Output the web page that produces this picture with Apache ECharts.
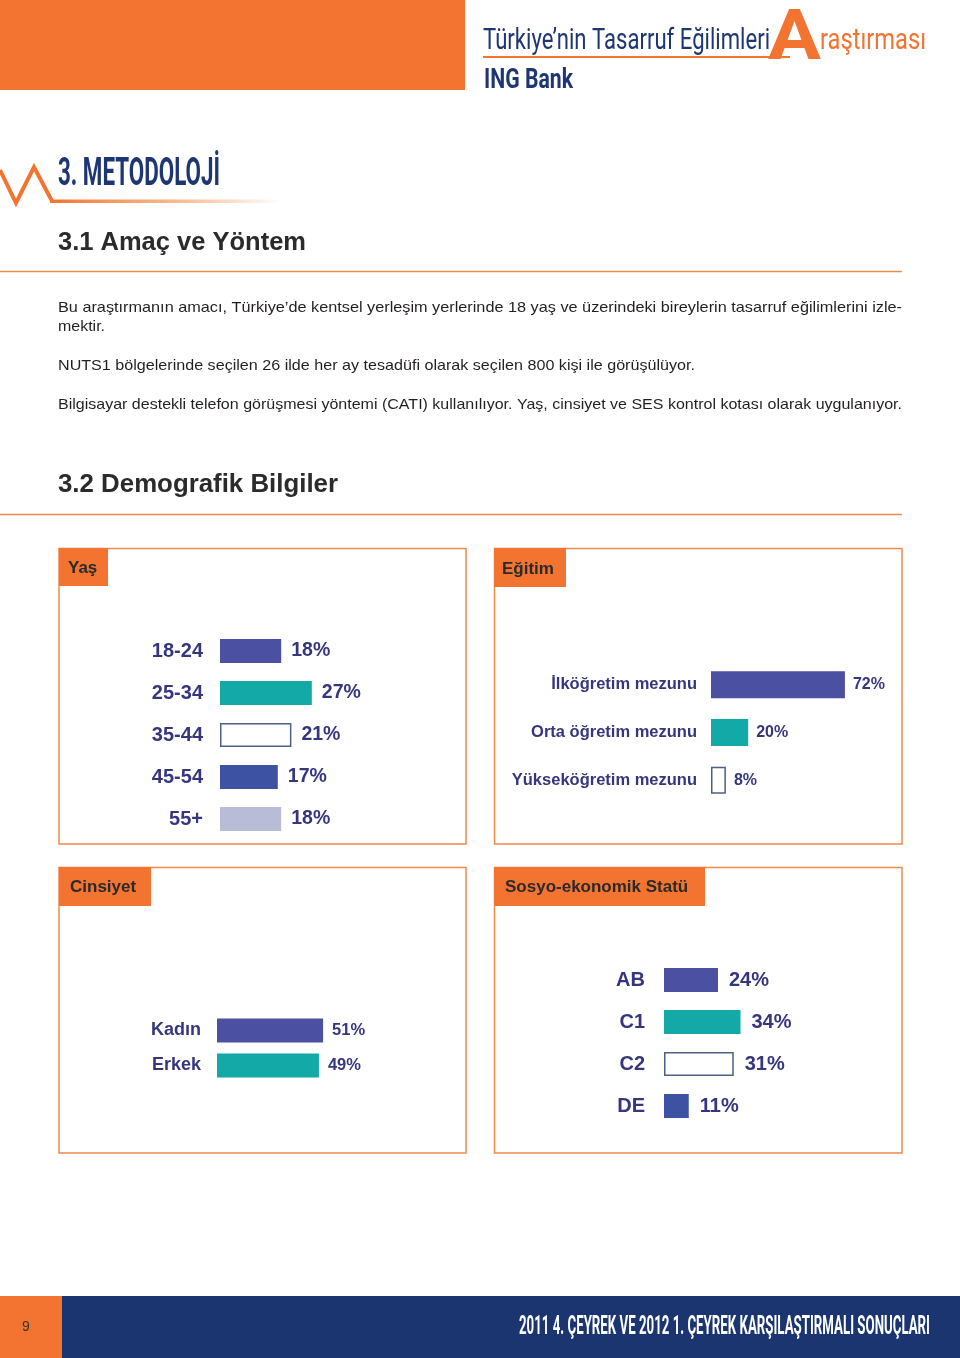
<!DOCTYPE html>
<html><head><meta charset="utf-8">
<script src="https://cdn.jsdelivr.net/npm/echarts@6/dist/echarts.min.js"></script>
<style>html,body{margin:0;padding:0;background:#fff}#c{width:960px;height:1358px}</style>
</head><body><div id="c"></div>
<script>
// ---- data ----
const ageCats = ['18-24','25-34','35-44','45-54','55+'];
const ageVals = [18,27,21,17,18];
const eduCats = ['İlköğretim mezunu','Orta öğretim mezunu','Yükseköğretim mezunu'];
const eduVals = [72,20,8];
const sexCats = ['Kadın','Erkek'];
const sexVals = [51,49];
const sesCats = ['AB','C1','C2','DE'];
const sesVals = [24,34,31,11];

// ---- styles ----
const ORANGE = '#f37430', NAVY = '#1f3674', LBL = '#36367f';
const PURPLE = '#4b50a2', TEAL = '#12a9a6', BLUE = '#3e52a3', LAV = '#b9bcd6', WHITE = '#ffffff', WBORDER = '#4a6285';
const ageColors = [PURPLE, TEAL, WHITE, BLUE, LAV];
const eduColors = [PURPLE, TEAL, WHITE];
const sexColors = [PURPLE, TEAL];
const sesColors = [PURPLE, TEAL, WHITE, BLUE];
const SANS = 'Liberation Sans, Arial, Helvetica, sans-serif';

const ctx = document.createElement('canvas').getContext('2d');
function fit(text, font, w){ ctx.font = font; const m = ctx.measureText(text).width; return w / m; }

function txt(text, x, y, font, fill, targetW, align){
  const s = targetW ? fit(text, font, targetW) : 1;
  return {type:'text', x:x, y:y, scaleX:s, z:10,
    style:{text:text, x:0, y:0, font:font, fill:fill, textAlign:align||'left', textVerticalAlign:'middle'}};
}
function rect(x,y,w,h,fill,stroke,lw){
  return {type:'rect', shape:{x:x,y:y,width:w,height:h}, z:1,
    style:{fill:fill||'none', stroke:stroke||null, lineWidth:lw||0}};
}

const graphic = [
  rect(0,0,465,90,ORANGE),
  txt('Türkiye’nin Tasarruf Eğilimleri', 483, 41, '30px Roboto, sans-serif', NAVY, 287),
  {type:'line', shape:{x1:483,y1:57,x2:790,y2:57}, style:{stroke:ORANGE, lineWidth:2}, z:5},
  txt('A', 768, 41, 'bold 70px Roboto, sans-serif', ORANGE, 53),
  txt('raştırması', 820, 41, '30px Roboto, sans-serif', ORANGE, 106),
  txt('ING Bank', 484, 81, 'bold 27px Roboto, sans-serif', NAVY, 89),
  {type:'polyline', shape:{points:[[0,170],[16,203],[34,167],[52,201]]}, style:{stroke:ORANGE, lineWidth:4, fill:null}, z:5},
  {type:'rect', shape:{x:50,y:199.5,width:232,height:3.5}, z:5,
    style:{fill:{type:'linear',x:0,y:0,x2:1,y2:0,colorStops:[{offset:0,color:ORANGE},{offset:0.55,color:'rgba(243,140,70,0.6)'},{offset:1,color:'rgba(243,140,70,0)'}]}}},
  txt('3. METODOLOJİ', 58, 175, 'bold 38px Roboto, sans-serif', NAVY, 162),
  txt('3.1 Amaç ve Yöntem', 58, 243, 'bold 26px '+SANS, '#2b2b2b', 248),
  {type:'line', shape:{x1:0,y1:271.5,x2:902,y2:271.5}, style:{stroke:'#f08a4b', lineWidth:1.5}},
  txt('Bu araştırmanın amacı, Türkiye’de kentsel yerleşim yerlerinde 18 yaş ve üzerindeki bireylerin tasarruf eğilimlerini izle-', 58, 307.5, '15px '+SANS, '#231f20', 844),
  txt('mektir.', 58, 326.5, '15px '+SANS, '#231f20', 47),
  txt('NUTS1 bölgelerinde seçilen 26 ilde her ay tesadüfi olarak seçilen 800 kişi ile görüşülüyor.', 58, 365.5, '15px '+SANS, '#231f20', 637),
  txt('Bilgisayar destekli telefon görüşmesi yöntemi (CATI) kullanılıyor. Yaş, cinsiyet ve SES kontrol kotası olarak uygulanıyor.', 58, 404.5, '15px '+SANS, '#231f20', 844),
  txt('3.2 Demografik Bilgiler', 58, 485, 'bold 26px '+SANS, '#2b2b2b', 280),
  {type:'line', shape:{x1:0,y1:514.5,x2:902,y2:514.5}, style:{stroke:'#f08a4b', lineWidth:1.5}},
  // panels
  rect(59,548.5,407,295.5,null,'#f08a4b',1.5),
  rect(494.5,548.5,407.5,295.5,null,'#f08a4b',1.5),
  rect(59,867.5,407,285.5,null,'#f08a4b',1.5),
  rect(494.5,867.5,407.5,285.5,null,'#f08a4b',1.5),
  rect(59,548,49,38,ORANGE),
  rect(494,548,72,39,ORANGE),
  rect(59,867,92,39,ORANGE),
  rect(494,867,211,39,ORANGE),
  txt('Yaş', 68, 568, 'bold 17px '+SANS, '#2a2a2a'),
  txt('Eğitim', 502, 569, 'bold 17px '+SANS, '#2a2a2a'),
  txt('Cinsiyet', 70, 887, 'bold 17px '+SANS, '#2a2a2a'),
  txt('Sosyo-ekonomik Statü', 505, 887, 'bold 17px '+SANS, '#2a2a2a'),
  // footer
  rect(0,1296,62,62,ORANGE),
  rect(62,1296,898,62,'#1a3570'),
  txt('9', 22, 1327, '14px '+SANS, '#333333'),
  txt('2011 4. ÇEYREK VE 2012 1. ÇEYREK KARŞILAŞTIRMALI SONUÇLARI', 930, 1328, 'bold 25px Roboto, sans-serif', '#ffffff', 411, 'right')
];

function panel(idx, cats, vals, colors, g, lblFont, lblMargin, valFont, valDist, barW){
  return {
    grid:{left:g.left, top:g.top, width:g.width, height:g.height, containLabel:false},
    xAxis:{type:'value', gridIndex:idx, min:0, max:100, show:false},
    yAxis:{type:'category', gridIndex:idx, data:cats, inverse:true,
      axisLine:{show:false}, axisTick:{show:false}, splitLine:{show:false},
      axisLabel:{margin:lblMargin, color:LBL, fontWeight:'bold', fontSize:lblFont, fontFamily:SANS}},
    series:{type:'bar', xAxisIndex:idx, yAxisIndex:idx, barWidth:barW, silent:true,
      data:vals.map((v,i)=>({value:v, itemStyle:{color:colors[i], borderColor: colors[i]===WHITE?WBORDER:colors[i], borderWidth: colors[i]===WHITE?1.5:0}})),
      label:{show:true, position:'right', distance:valDist, formatter:'{c}%', color:LBL, fontWeight:'bold', fontSize:valFont, fontFamily:SANS}}
  };
}

const p = [
  panel(0, ageCats, ageVals, ageColors, {left:220, top:630, width:340, height:210}, 20, 17, 19.5, 10, 24),
  panel(1, eduCats, eduVals, eduColors, {left:711, top:661, width:186, height:143}, 16.5, 14, 16, 8, 27),
  panel(2, sexCats, sexVals, sexColors, {left:217, top:1013, width:208, height:70}, 18, 16, 16.5, 9, 24),
  panel(3, sesCats, sesVals, sesColors, {left:664, top:959, width:225, height:168}, 20, 19, 20, 11, 24)
];

const chart = echarts.init(document.getElementById('c'), null, {renderer:'canvas'});
chart.setOption({
  animation:false,
  backgroundColor:'#ffffff',
  grid:p.map(x=>x.grid),
  xAxis:p.map(x=>x.xAxis),
  yAxis:p.map(x=>x.yAxis),
  series:p.map(x=>x.series),
  graphic:graphic
});
</script></body></html>
